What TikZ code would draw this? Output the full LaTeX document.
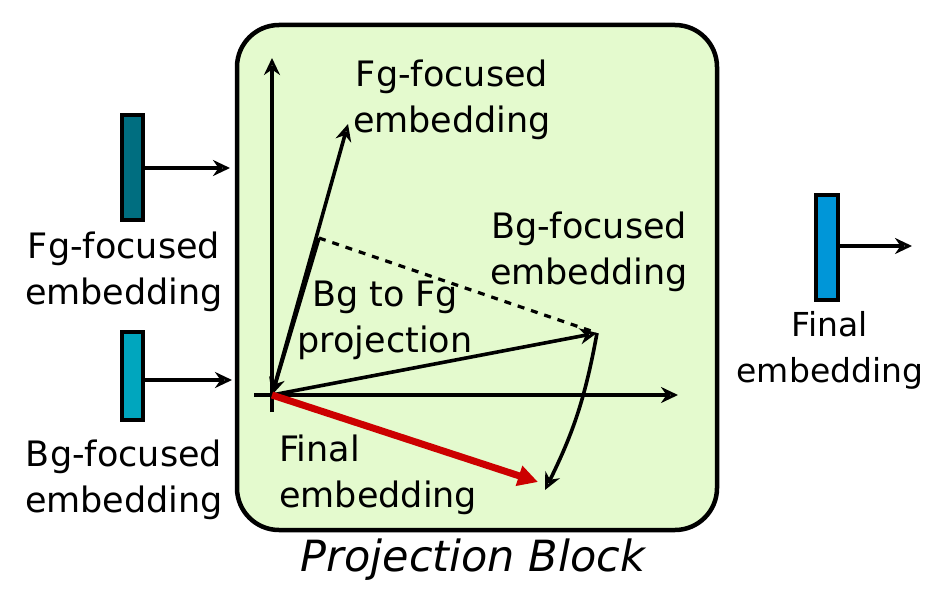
\documentclass[tikz,border=0pt]{standalone}
\usepackage{fontspec}
\setmainfont{DejaVu Sans}
\usetikzlibrary{arrows.meta}
\definecolor{blockfill}{HTML}{E4FACE}
\definecolor{tealdark}{HTML}{006E80}
\definecolor{teallight}{HTML}{00A6BE}
\definecolor{bluebar}{HTML}{0096D8}
\definecolor{redarrow}{HTML}{CC0000}
\tikzset{
  vec/.style={line width=3.6pt,-{Stealth[open,length=17pt,width=16pt,line width=3.2pt]}},
  bar/.style={draw=black,line width=4pt},
  lbl/.style={font=\fontsize{35}{46}\selectfont,align=center,inner sep=0pt},
}
\begin{document}
\begin{tikzpicture}[x=1pt,y=-1pt]
\useasboundingbox (0,0) rectangle (933,602);
% block
\node[draw=black,line width=4.5pt,fill=blockfill,rounded corners=42pt,minimum width=480pt,minimum height=505pt,inner sep=0pt] (block) at (477,277.5) {};
% left top bar
\node[bar,fill=tealdark,minimum width=21pt,minimum height=105pt,inner sep=0pt] (fgbar) at (132.5,167.5) {};
\coordinate (fgin) at (230,168);
\draw[vec] (fgbar.east |- fgin) -- (fgin);
% left bottom bar
\node[bar,fill=teallight,minimum width=21pt,minimum height=88pt,inner sep=0pt] (bgbar) at (132.5,376) {};
\coordinate (bgin) at (232,380);
\draw[vec] (bgbar.east |- bgin) -- (bgin);
% right bar
\node[bar,fill=bluebar,minimum width=22pt,minimum height=105pt,inner sep=0pt] (finbar) at (826.5,247.5) {};
\coordinate (finout) at (912,246);
\draw[vec] (finbar.east |- finout) -- (finout);
% labels outside
\node[lbl] (lfg) at (124,272) {Fg-focused\\embedding};
\node[lbl] (lbg) at (124,480) {Bg-focused\\embedding};
\node[lbl,font=\fontsize{33}{46}\selectfont] (lfin) at (830,350) {Final\\embedding};
\node[font=\fontsize{43}{48}\selectfont\itshape,inner sep=0pt] (title) at (473,560) {Projection Block};
% inner geometry
\coordinate (O) at (272,395);
\coordinate (ytop) at (272,58);
\coordinate (ybot) at (272,412);
\coordinate (xleft) at (254,395);
\coordinate (xright) at (678,395);
\coordinate (fgtip) at (348,124);
\coordinate (bgtip) at (597,333);
\coordinate (proj) at (319,238);
\coordinate (fintip) at (538,482);
\coordinate (curvend) at (545,490);
\draw[vec] (ybot) -- (ytop);
\draw[vec] (xleft) -- (xright);
\draw[vec] (O) -- (fgtip);
\draw[vec] (O) -- (bgtip);
\draw[vec] (proj) -- (O);
\draw[line width=3.2pt,dash pattern=on 7pt off 7pt] (proj) -- (bgtip);
\draw[vec] (bgtip) to[bend left=8] (curvend);
\draw[line width=7pt,redarrow,-{Triangle[length=20pt,width=20pt]}] (O) -- (fintip);
% inner labels
\node[lbl] (ifg) at (452,100) {Fg-focused\\embedding};
\node[lbl] (ibg) at (589,252) {Bg-focused\\embedding};
\node[lbl] (iproj) at (385,320) {Bg to Fg\\projection};
\node[lbl,align=left,anchor=west] (ifin) at (279,475) {Final\\embedding};
\end{tikzpicture}
\end{document}
